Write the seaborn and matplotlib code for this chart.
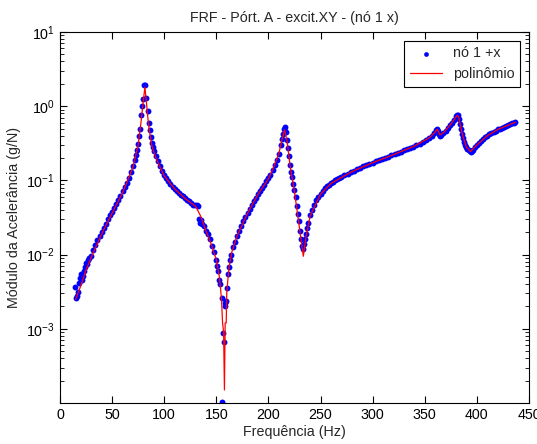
"""
FRF magnitude plot: measured points against the polynomial fit.
"""
import matplotlib

matplotlib.use("Agg")
import pandas as pd
import seaborn as sns
from matplotlib import pyplot as plt
from matplotlib.ticker import LogLocator, NullFormatter

# measured points (nó 1 +x)
freq_pts: list[float] = [
    14, 15, 16, 17, 18, 19, 20, 21, 22, 23, 24, 25, 26, 27, 28, 30, 32, 34,
    36, 38, 40, 42, 44, 46, 48, 50, 52, 54, 56, 58, 60, 62, 64, 66, 68, 70,
    72, 73, 74, 75, 76, 77, 78, 79, 80, 81, 82, 83, 84, 85, 86, 87, 88, 89,
    90, 92, 94, 96, 98, 100, 102, 104, 106, 108, 110, 112, 114, 116, 118,
    120, 122, 124, 126, 128, 130, 131, 132, 133, 134, 135, 136, 138, 140,
    142, 144, 146, 148, 150, 151, 152, 153, 154, 155, 155.7, 156.5, 157,
    158, 158.5, 159, 160, 161, 162, 163, 164, 166, 168, 170, 172, 174, 176,
    178, 180, 182, 184, 186, 188, 190, 192, 194, 196, 198, 200, 202, 204,
    206, 208, 210, 212, 213, 214, 215, 216, 217, 218, 219, 220, 221, 222,
    223, 224, 225, 226, 227, 228, 229, 230, 231, 232, 233, 234, 235, 236,
    237, 238, 240, 242, 244, 246, 248, 250, 252, 254, 256, 258, 260, 262,
    264, 266, 268, 270, 273, 276, 279, 282, 285, 288, 291, 294, 297, 300,
    303, 306, 309, 312, 315, 318, 321, 324, 327, 330, 333, 336, 339, 342,
    345, 348, 351, 354, 357, 359, 361, 362, 363, 364, 365, 366, 368, 370,
    372, 374, 376, 378, 380, 381, 382, 383, 384, 385, 386, 387, 388, 389,
    390, 391, 392, 393, 394, 395, 396, 398, 400, 402, 404, 406, 408, 410,
    412, 414, 416, 418, 420, 422, 424, 426, 428, 430, 432, 434, 436, 437,
]
mag_pts: list[float] = [
    0.0037, 0.0026, 0.0028, 0.0031, 0.0042, 0.0048, 0.0055, 0.0045, 0.0052,
    0.0060, 0.0068, 0.0078, 0.0075, 0.0085, 0.0090, 0.0095, 0.0115, 0.0135,
    0.0155, 0.018, 0.020, 0.023, 0.026, 0.030, 0.034, 0.038, 0.043, 0.048,
    0.054, 0.062, 0.072, 0.082, 0.093, 0.108, 0.128, 0.155, 0.19, 0.22,
    0.26, 0.31, 0.40, 0.50, 0.75, 1.0, 1.25, 1.9, 1.95, 1.3, 0.85, 0.6,
    0.48, 0.38, 0.32, 0.28, 0.25, 0.21, 0.18, 0.155, 0.135, 0.12, 0.108,
    0.097, 0.089, 0.082, 0.077, 0.072, 0.068, 0.064, 0.061, 0.058, 0.055,
    0.052, 0.050, 0.047, 0.046, 0.047, 0.045, 0.030, 0.027, 0.029, 0.026,
    0.024, 0.021, 0.019, 0.016, 0.013, 0.011, 0.0085, 0.0070, 0.0060,
    0.0045, 0.0040, 0.0026, 0.000102, 0.00087, 0.00066, 0.0022, 0.0020,
    0.0024, 0.0036, 0.0055, 0.0068, 0.0085, 0.0100, 0.0125, 0.015, 0.018,
    0.021, 0.024, 0.028, 0.032, 0.036, 0.041, 0.046, 0.052, 0.058, 0.065,
    0.072, 0.080, 0.088, 0.097, 0.107, 0.12, 0.14, 0.16, 0.19, 0.23, 0.30,
    0.36, 0.42, 0.50, 0.53, 0.45, 0.35, 0.27, 0.21, 0.16, 0.13, 0.11, 0.09,
    0.075, 0.06, 0.045, 0.035, 0.028, 0.021, 0.016, 0.013, 0.012, 0.014,
    0.016, 0.019, 0.023, 0.027, 0.034, 0.040, 0.047, 0.054, 0.060, 0.066,
    0.072, 0.078, 0.083, 0.088, 0.092, 0.096, 0.100, 0.103, 0.107, 0.111,
    0.117, 0.123, 0.129, 0.135, 0.141, 0.148, 0.154, 0.161, 0.167, 0.174,
    0.180, 0.187, 0.194, 0.201, 0.209, 0.217, 0.225, 0.234, 0.243, 0.253,
    0.263, 0.274, 0.286, 0.299, 0.313, 0.33, 0.35, 0.37, 0.40, 0.43, 0.48,
    0.50, 0.47, 0.42, 0.40, 0.41, 0.44, 0.47, 0.51, 0.55, 0.60, 0.66, 0.73,
    0.76, 0.75, 0.68, 0.58, 0.49, 0.42, 0.37, 0.33, 0.30, 0.28, 0.265,
    0.255, 0.25, 0.245, 0.25, 0.26, 0.28, 0.30, 0.32, 0.34, 0.36, 0.38,
    0.40, 0.42, 0.44, 0.455, 0.47, 0.485, 0.50, 0.515, 0.53, 0.545, 0.56,
    0.575, 0.59, 0.60, 0.61,
]

# polynomial fit curve
freq_fit: list[float] = [
    15, 20, 25, 30, 40, 50, 60, 70, 75, 78, 80, 81.5, 83, 85, 88, 92, 100,
    110, 120, 130, 135, 140, 145, 150, 153, 155, 156, 157, 157.8, 158.5,
    159.5, 160, 162, 165, 170, 180, 190, 200, 205, 210, 213, 215.5, 218,
    221, 225, 228, 231, 233.5, 236, 240, 250, 260, 280, 300, 320, 340, 355,
    360, 362, 364.5, 368, 375, 381, 382.5, 386, 390, 394, 400, 410, 420,
    437,
]
mag_fit: list[float] = [
    0.0025, 0.0038, 0.0062, 0.0092, 0.019, 0.036, 0.068, 0.15, 0.3, 0.65,
    1.2, 1.8, 1.1, 0.55, 0.3, 0.2, 0.115, 0.077, 0.057, 0.045, 0.033, 0.021,
    0.014, 0.0085, 0.005, 0.0025, 0.0012, 0.0009, 0.00015, 0.0012, 0.0012,
    0.003, 0.0065, 0.011, 0.018, 0.036, 0.065, 0.105, 0.15, 0.23, 0.35,
    0.48, 0.33, 0.15, 0.07, 0.035, 0.017, 0.0095, 0.017, 0.033, 0.065,
    0.091, 0.131, 0.173, 0.222, 0.29, 0.38, 0.45, 0.49, 0.41, 0.44, 0.57,
    0.75, 0.72, 0.42, 0.28, 0.245, 0.3, 0.4, 0.485, 0.61,
]

x_ticks: list[int] = [0, 50, 100, 150, 200, 250, 300, 350, 400, 450]
y_ticks: list[float] = [1e-3, 1e-2, 1e-1, 1e0, 1e1]


def plot_frf(points: pd.DataFrame, fit: pd.DataFrame) -> None:
    """
    Plot the FRF magnitude (log scale) of the measured points and the fit
    :param points: measured frequency / magnitude pairs
    :type points: pd.DataFrame
    :param fit: fitted frequency / magnitude pairs
    :type fit: pd.DataFrame
    :return: None
    :rtype: NoneType
    """
    sns.set_style("ticks")
    plt.rcParams["font.family"] = ["Liberation Sans", "DejaVu Sans"]
    plt.rcParams["mathtext.default"] = "regular"
    plt.rcParams["font.size"] = 10

    fig = plt.figure(figsize=(5.37, 4.44), dpi=100)
    ax = fig.add_axes([0.1117, 0.0923, 0.8733, 0.8357])

    sns.scatterplot(
        data=points, x="freq", y="mag", ax=ax, color="#0000ff", s=18,
        linewidth=0, label="nó 1 +x", zorder=2,
    )
    sns.lineplot(
        data=fit, x="freq", y="mag", ax=ax, color="#ff0000", linewidth=0.9,
        estimator=None, label="polinômio", zorder=3,
    )

    ax.set_yscale("log")
    ax.set_xlim(0, 450)
    ax.set_ylim(1e-4, 10)
    ax.set_xticks(x_ticks)
    ax.set_yticks(y_ticks)
    ax.yaxis.set_minor_locator(LogLocator(base=10, subs=range(2, 10)))
    ax.yaxis.set_minor_formatter(NullFormatter())
    ax.tick_params(which="both", direction="in", top=True, right=True,
                   colors="black", labelsize=10.3)
    ax.tick_params(which="major", length=5, width=0.8)
    ax.tick_params(which="minor", length=3, width=0.6)
    for spine in ax.spines.values():
        spine.set_visible(True)
        spine.set_color("black")
        spine.set_linewidth(0.8)

    ax.set_title("FRF - Pórt. A - excit.XY - (nó 1 x)", fontsize=10.3, pad=7)
    ax.set_xlabel("Frequência (Hz)", fontsize=10.3, labelpad=2)
    ax.set_ylabel("Módulo da Acelerância (g/N)", fontsize=10.3, labelpad=4)

    leg = ax.legend(loc="upper right", frameon=True, fancybox=False,
                    borderaxespad=0.6, fontsize=10.3, handlelength=2.2,
                    markerscale=0.8)
    leg.get_frame().set_edgecolor("black")
    leg.get_frame().set_linewidth(0.8)
    leg.get_frame().set_alpha(1)

    fig.savefig("out.png", dpi=100, facecolor="white")
    plt.close(fig)


if __name__ == "__main__":
    points_df = pd.DataFrame({"freq": freq_pts, "mag": mag_pts})
    fit_df = pd.DataFrame({"freq": freq_fit, "mag": mag_fit})
    plot_frf(points_df, fit_df)
